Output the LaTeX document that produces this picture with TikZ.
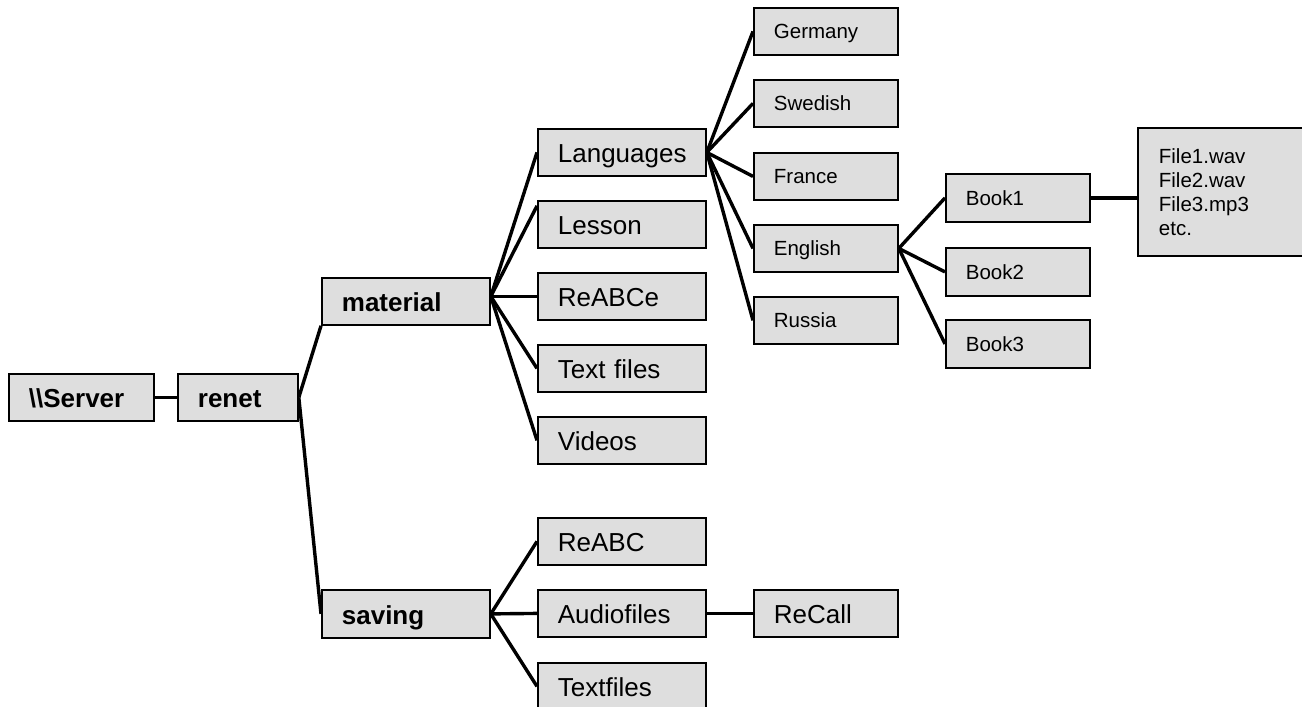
\documentclass[tikz,border=0pt]{standalone}
\usepackage{fontspec}
\setmainfont{Liberation Sans}
\usetikzlibrary{calc}
\definecolor{boxgray}{RGB}{222,222,222}
\begin{document}
\begin{tikzpicture}[x=1pt,y=-1pt,
  box/.style={draw=black, line width=1.8pt, fill=boxgray, anchor=north west,
    inner ysep=0pt, inner xsep=20pt, align=left, text height=21pt, text depth=0pt,
    minimum height=47pt, font=\fontsize{26}{30}\selectfont},
  small/.style={text height=15pt, font=\fontsize{20.5}{24}\selectfont},
  bold/.style={font=\fontsize{26}{30}\selectfont\bfseries},
  wide/.style={text width=128pt},
  narrow/.style={text width=104pt},
  conn/.style={line width=3.4pt}]
\useasboundingbox (0,0) rectangle (1302,707);

% level 0/1
\node[box, bold, text width=105pt] (server) at (8,373) {\textbackslash\textbackslash Server};
\node[box, bold, text width=80pt] (renet) at (177,373) {renet};
\node[box, bold, wide] (material) at (321,277) {material};
\node[box, bold, wide, minimum height=48pt] (saving) at (321,589) {saving};

% material children
\node[box, wide] (lang) at (537,128) {Languages};
\node[box, wide] (lesson) at (537,200) {Lesson};
\node[box, wide] (reabce) at (537,272) {ReABCe};
\node[box, wide] (textf) at (537,344) {Text files};
\node[box, wide] (videos) at (537,416) {Videos};

% saving children
\node[box, wide] (reabc) at (537,517) {ReABC};
\node[box, wide] (audio) at (537,589) {Audiofiles};
\node[box, wide] (textfiles) at (537,662) {Textfiles};
\node[box, narrow] (recall) at (753,589) {ReCall};

% languages
\node[box, small, narrow] (germany) at (753,7) {Germany};
\node[box, small, narrow] (swedish) at (753,79) {Swedish};
\node[box, small, narrow] (france) at (753,152) {France};
\node[box, small, narrow] (english) at (753,224) {English};
\node[box, small, narrow] (russia) at (753,296) {Russia};

% books
\node[box, small, narrow, minimum height=48pt] (book1) at (945,173) {Book1};
\node[box, small, narrow, minimum height=48pt] (book2) at (945,247) {Book2};
\node[box, small, narrow, minimum height=48pt] (book3) at (945,319) {Book3};

\node[box, small, text width=140pt, inner xsep=21pt, minimum height=128pt,
  text height=, text depth=] (files) at (1137,127)
  {File1.wav\\File2.wav\\File3.mp3\\etc.\\[18pt]};

% connectors
\draw[conn] (server.east) -- (renet.west);
\draw[conn] (renet.east) -- (material.south west);
\draw[conn] (renet.east) -- (saving.west);

\coordinate (mj) at (material.east |- reabce.west);
\coordinate (lesT) at ($(lesson.north west)!0.12!(lesson.south west)$);
\draw[conn] (mj) -- (lang.west);
\draw[conn] (mj) -- (lesT);
\draw[conn] (mj) -- (reabce.west);
\draw[conn] (mj) -- (textf.west);
\draw[conn] (mj) -- (videos.west);

\draw[conn] (saving.east) -- (reabc.west);
\draw[conn] (saving.east) -- (audio.west);
\draw[conn] (saving.east) -- (textfiles.west);
\draw[conn] (audio.east) -- (recall.west);

\draw[conn] (lang.east) -- (germany.west);
\draw[conn] (lang.east) -- (swedish.west);
\draw[conn] (lang.east) -- (france.west);
\draw[conn] (lang.east) -- (english.west);
\draw[conn] (lang.east) -- (russia.west);

\draw[conn] (english.east) -- (book1.west);
\draw[conn] (english.east) -- (book2.west);
\draw[conn] (english.east) -- (book3.west);

\draw[conn] (book1.east) -- (files.west |- book1.east);
\end{tikzpicture}
\end{document}
